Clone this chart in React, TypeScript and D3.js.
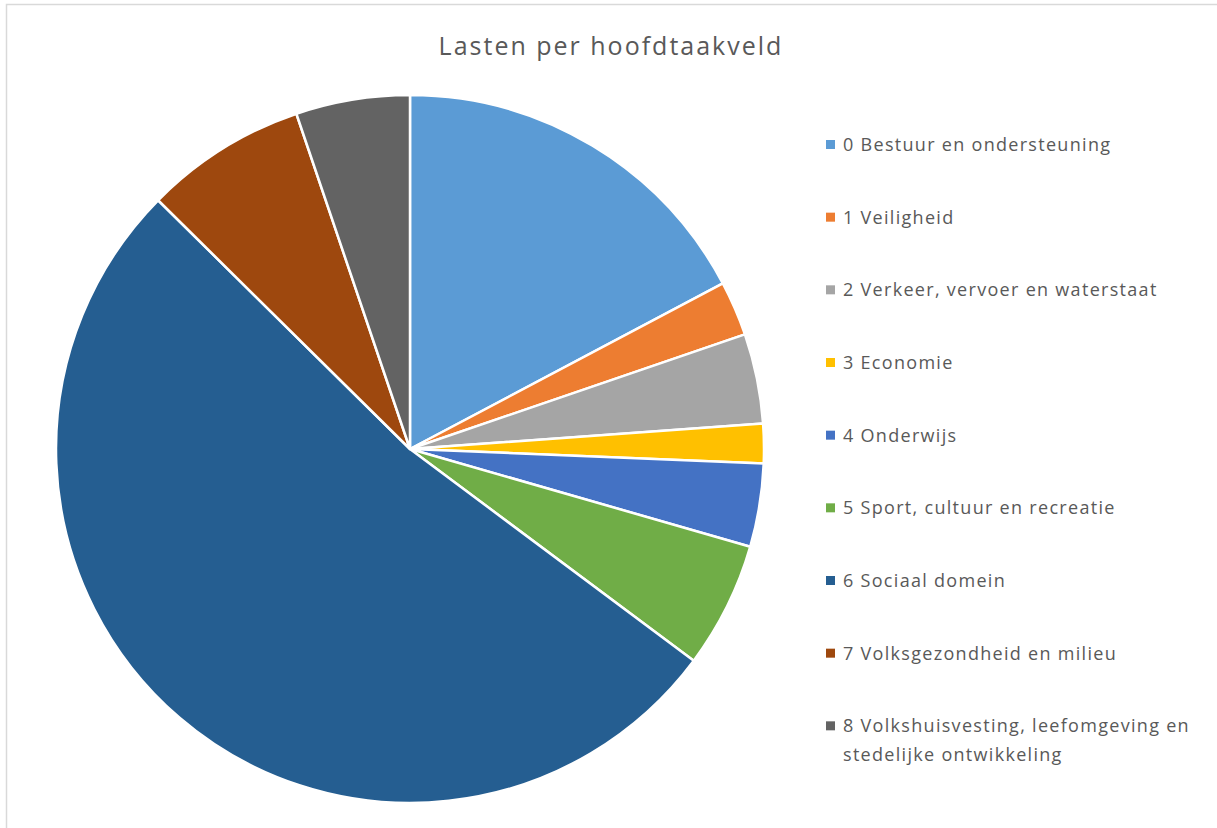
import React, { useRef, useEffect } from 'react'
import * as d3 from 'd3'

const categories = [
  '0 Bestuur en ondersteuning',
  '1 Veiligheid',
  '2 Verkeer, vervoer en waterstaat',
  '3 Economie',
  '4 Onderwijs',
  '5 Sport, cultuur en recreatie',
  '6 Sociaal domein',
  '7 Volksgezondheid en milieu',
  '8 Volkshuisvesting, leefomgeving en stedelijke ontwikkeling',
]
// share of total (%)
const values = [17.25, 2.5, 4.1, 1.8, 3.8, 5.75, 52.2, 7.4, 5.2]
const colors = [
  '#5B9BD5',
  '#ED7D31',
  '#A5A5A5',
  '#FFC000',
  '#4472C4',
  '#70AD47',
  '#255E91',
  '#9E480E',
  '#636363',
]
const legendLines = [
  ['0 Bestuur en ondersteuning'],
  ['1 Veiligheid'],
  ['2 Verkeer, vervoer en waterstaat'],
  ['3 Economie'],
  ['4 Onderwijs'],
  ['5 Sport, cultuur en recreatie'],
  ['6 Sociaal domein'],
  ['7 Volksgezondheid en milieu'],
  ['8 Volkshuisvesting, leefomgeving en', 'stedelijke ontwikkeling'],
]

const W = 1217
const H = 828

const App = () => {
  const svgRef = useRef<SVGSVGElement>(null)

  useEffect(() => {
    const svg = d3.select(svgRef.current)
    svg.selectAll('*').remove()
    const font = '"Open Sans", Lato, sans-serif'

    svg.append('rect').attr('width', W).attr('height', H).attr('fill', '#fff')
    svg
      .append('rect')
      .attr('x', 6.5)
      .attr('y', 4.5)
      .attr('width', W + 20)
      .attr('height', H + 20)
      .attr('fill', 'none')
      .attr('stroke', '#d9d9d9')
      .attr('stroke-width', 1.5)

    svg
      .append('text')
      .attr('x', 611)
      .attr('y', 55)
      .attr('text-anchor', 'middle')
      .attr('font-family', font)
      .attr('font-size', 25)
      .attr('letter-spacing', 2)
      .attr('fill', '#595959')
      .text('Lasten per hoofdtaakveld')

    const cx = 410
    const cy = 449
    const r = 354

    const pie = d3
      .pie<number>()
      .sort(null)
      .value((d) => d)
    const arc = d3.arc<d3.PieArcDatum<number>>().innerRadius(0).outerRadius(r)

    svg
      .append('g')
      .attr('transform', `translate(${cx},${cy})`)
      .selectAll('path')
      .data(pie(values))
      .enter()
      .append('path')
      .attr('d', arc)
      .attr('fill', (d, i) => colors[i])
      .attr('stroke', '#fff')
      .attr('stroke-width', 2.5)
      .attr('stroke-linejoin', 'round')

    const y = d3
      .scaleBand()
      .domain(categories)
      .range([109, 763])

    const lg = svg
      .append('g')
      .selectAll('g')
      .data(categories)
      .enter()
      .append('g')
      .attr('transform', (d) => `translate(826,${(y(d) as number) + 36})`)

    lg.append('rect')
      .attr('x', 0)
      .attr('y', -5)
      .attr('width', 9)
      .attr('height', 9)
      .attr('fill', (d, i) => colors[i])

    lg.append('text')
      .attr('x', 17)
      .attr('y', 6)
      .attr('font-family', font)
      .attr('font-size', 18)
      .attr('letter-spacing', 1.3)
      .attr('fill', '#595959')
      .selectAll('tspan')
      .data((d, i) => legendLines[i])
      .enter()
      .append('tspan')
      .attr('x', 17)
      .attr('dy', (d, i) => (i === 0 ? 0 : 29))
      .text((d) => d)
  }, [])

  return (
    <svg
      ref={svgRef}
      width={W}
      height={H}
      style={{ position: 'absolute', left: 0, top: 0, display: 'block' }}
    />
  )
}

export default App
